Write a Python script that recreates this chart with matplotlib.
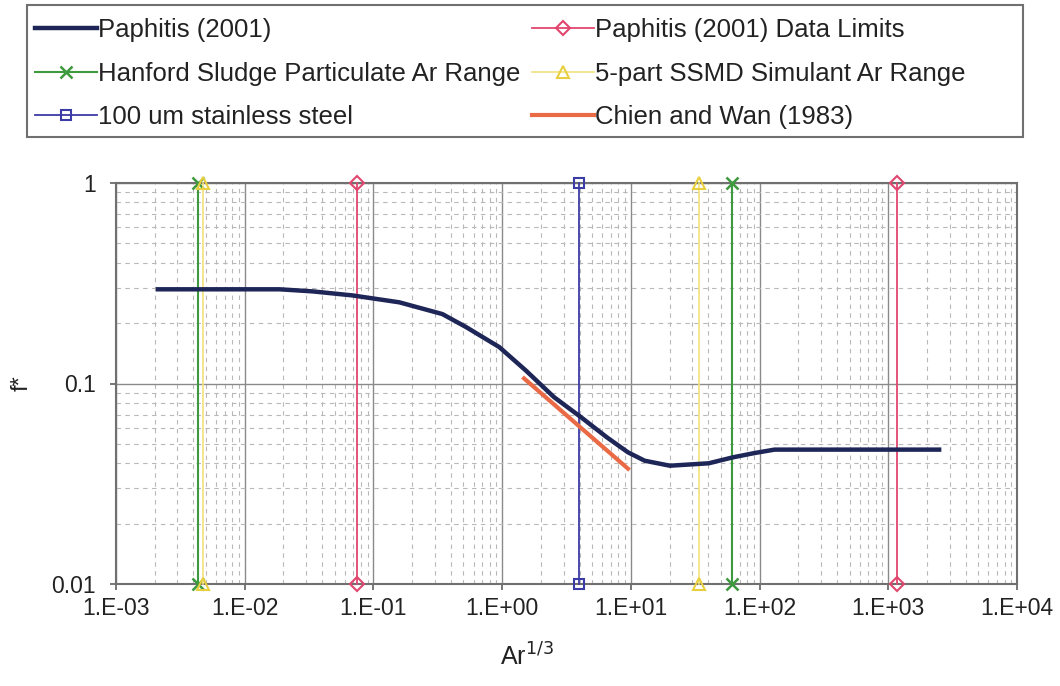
import matplotlib
matplotlib.use("Agg")
import matplotlib.pyplot as plt
from matplotlib.ticker import LogLocator, NullFormatter
from matplotlib.patches import Rectangle

plt.rcParams['font.family'] = ['Liberation Sans', 'DejaVu Sans']

# Paphitis (2001) curve
paph_x = [0.00212, 0.0187, 0.0337, 0.0687, 0.159, 0.343, 0.526, 0.949, 1.53,
          2.53, 4.10, 6.51, 9.48, 12.8, 20.1, 40.3, 61.8, 89.8, 130.6, 2483]
paph_y = [0.295, 0.295, 0.288, 0.275, 0.254, 0.222, 0.191, 0.152, 0.116,
          0.0855, 0.0679, 0.0539, 0.0454, 0.0412, 0.0389, 0.0400, 0.0428, 0.0449, 0.0468, 0.0468]

# Chien and Wan (1983)
chien_x = [1.48, 9.5]
chien_y = [0.106, 0.0376]

# vertical ranges (x positions), drawn from y=1 to y=0.01
yrange = [1, 0.01]
hanford = [0.0043, 60.7]
ssmd = [0.0047, 33.7]
plimits = [0.074, 1175]
steel = [3.95]

xticks = [1e-3, 1e-2, 1e-1, 1e0, 1e1, 1e2, 1e3, 1e4]
xticklabels = ['1.E-03', '1.E-02', '1.E-01', '1.E+00', '1.E+01', '1.E+02', '1.E+03', '1.E+04']
yticks = [0.01, 0.1, 1]
yticklabels = ['0.01', '0.1', '1']

fig = plt.figure(figsize=(10.6, 6.86), dpi=100)
ax = fig.add_axes([116/1060, 1-584/686, (1017-116)/1060, (584-183)/686])
ax.set_xscale('log')
ax.set_yscale('log')
ax.set_xlim(1e-3, 1e4)
ax.set_ylim(0.01, 1)

c_navy = '#1e2657'
c_green = '#3e9a3e'
c_yellow = '#f2e27a'
c_pink = '#e0466e'
c_blue = '#3c3ca6'
c_orange = '#ea6a45'

for x in plimits:
    h_pl, = ax.plot([x, x], yrange, color=c_pink, lw=1.3, marker='D', ms=7,
                    mfc='none', mec=c_pink, mew=1.5, zorder=3, clip_on=False)
for x in hanford:
    h_ha, = ax.plot([x, x], yrange, color=c_green, lw=1.5, marker='x', ms=9,
                    mew=1.8, zorder=3, clip_on=False)
for x in ssmd:
    h_ss, = ax.plot([x, x], yrange, color=c_yellow, lw=1.2, marker='^', ms=8,
                    mfc='none', mec='#e8cf40', mew=1.5, zorder=3, clip_on=False)
for x in steel:
    h_st, = ax.plot([x, x], yrange, color=c_blue, lw=1.3, marker='s', ms=7,
                    mfc='none', mec=c_blue, mew=1.5, zorder=3, clip_on=False)

h_pa, = ax.plot(paph_x, paph_y, color=c_navy, lw=3.2, zorder=5)
h_ch, = ax.plot(chien_x, chien_y, color=c_orange, lw=3.0, zorder=4)

for a in (ax.xaxis, ax.yaxis):
    a.set_minor_locator(LogLocator(base=10, subs=range(2, 10), numticks=100))
    a.set_minor_formatter(NullFormatter())
ax.set_xticks(xticks)
ax.set_xticklabels(xticklabels)
ax.set_yticks(yticks)
ax.set_yticklabels(yticklabels)

ax.grid(True, which='major', color='#8a8a8a', lw=1.0, ls='-')
ax.grid(True, which='minor', color='#b8b8b8', lw=0.8, ls=(0, (4, 4)))
ax.set_axisbelow(True)
for s in ax.spines.values():
    s.set_color('#707070')
    s.set_linewidth(1.5)

ax.tick_params(which='major', direction='out', length=4.5, width=1.2, color='#606060',
               labelsize=16.5, labelcolor='#222222')
ax.tick_params(axis='x', which='major', pad=5)
ax.tick_params(axis='y', which='major', pad=10)
ax.tick_params(which='minor', length=0)

ax.set_xlabel('Ar$^{1/3}$', fontsize=18, color='#222222')
ax.xaxis.set_label_coords(0.456, -0.148)
ax.set_ylabel('f*', fontsize=17, color='#222222')
ax.yaxis.set_label_coords(-0.093, 0.5)

# legend frame
fig.patches.append(Rectangle((27/1060, 1-137/686), (1023-27)/1060, 132/686,
                             transform=fig.transFigure, fill=False,
                             edgecolor='#707070', lw=1.5))

handles = [h_pa, h_ha, h_st, h_pl, h_ss, h_ch]
labels = ['Paphitis (2001)', 'Hanford Sludge Particulate Ar Range', '100 um stainless steel',
          'Paphitis (2001) Data Limits', '5-part SSMD Simulant Ar Range', 'Chien and Wan (1983)']
leg = fig.legend(handles, labels, ncol=2, loc='upper left',
                 bbox_to_anchor=(35/1060, 1-18/686),
                 fontsize=18.5, frameon=False,
                 handlelength=2.4, handletextpad=0.05, labelspacing=0.76,
                 borderpad=0.0, borderaxespad=0.0, columnspacing=0.47)
for t in leg.get_texts():
    t.set_color('#222222')

fig.savefig('out.png', dpi=100)
